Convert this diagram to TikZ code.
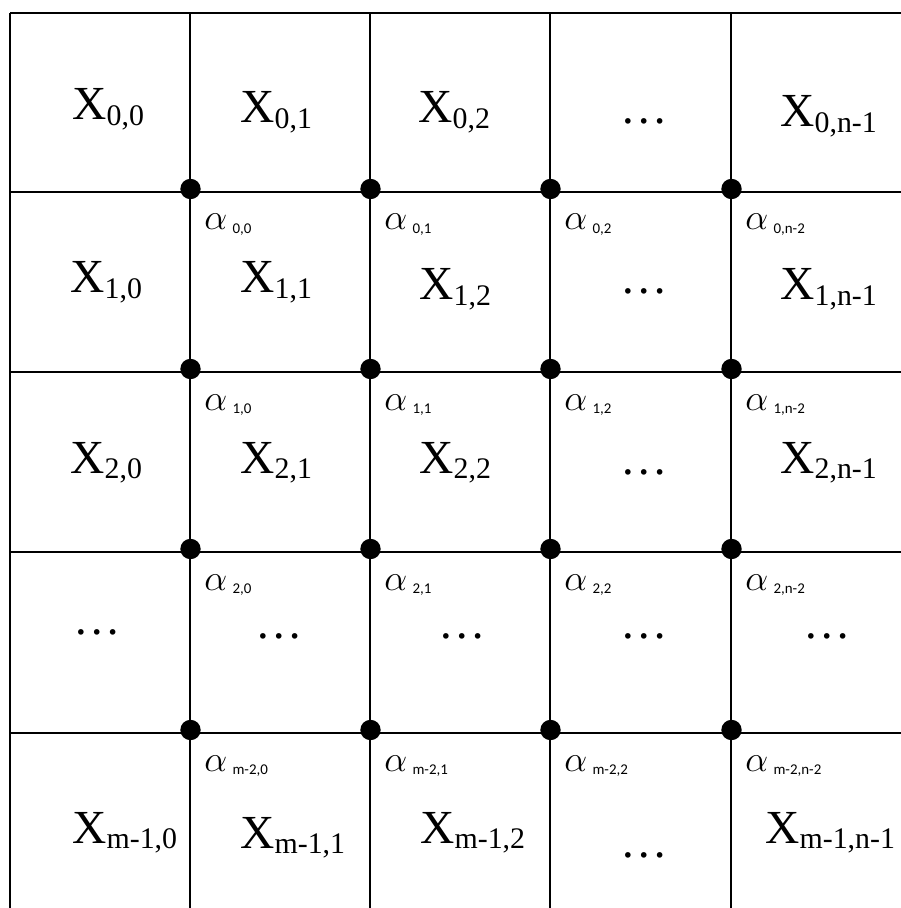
\documentclass[tikz,border=0pt]{standalone}
\usepackage{fontspec}
\setmainfont{Liberation Serif}
\newfontfamily\smallsans{Carlito}
\usepackage{tikz}

\newcommand{\xlab}[1]{X\raisebox{-3pt}{\fontsize{17}{17}\selectfont #1}}
\newcommand{\alab}[1]{$\alpha$\hspace{3pt}\raisebox{-2pt}{\smallsans\fontsize{8.5}{9}\selectfont #1}}

\begin{document}
\begin{tikzpicture}[x=0.02cm,y=-0.02cm,
  cell/.style={inner sep=0pt,anchor=base west,font=\fontsize{27}{30}\selectfont},
  weight/.style={inner sep=0pt,anchor=base west,font=\fontsize{21}{24}\selectfont}]
\useasboundingbox (0,0) rectangle (901,908);
% grid, open at the right and at the bottom
\foreach \y in {13,192,372,552,733} \draw[line width=1.1pt] (10,\y) -- (901,\y);
\foreach \x in {10,190,370,550,731} \draw[line width=1.1pt] (\x,13) -- (\x,908);
% inner points and their weights
\foreach \y/\r [count=\i] in {192/0,372/1,552/2,733/m-2}{
  \foreach \x/\c [count=\j] in {190/0,370/1,550/2,731/n-2}{
    \fill (\x+0.5,\y-3) circle[radius=5.8pt];
    \node[weight] (a\i\j) at (\x+14,\y+38) {\alab{\r,\c}};
  }
}
% row 0
\node[cell] (x00) at (72,120) {\xlab{0,0}};
\node[cell] (x01) at (240,123) {\xlab{0,1}};
\node[cell] (x02) at (418,123) {\xlab{0,2}};
\node[cell] (x03) at (620,124) {…};
\node[cell] (x04) at (780,127) {\xlab{0,n-1}};
% row 1
\node[cell] (x10) at (70,293) {\xlab{1,0}};
\node[cell] (x11) at (240,293) {\xlab{1,1}};
\node[cell] (x12) at (419,300) {\xlab{1,2}};
\node[cell] (x13) at (620,294) {…};
\node[cell] (x14) at (780,300) {\xlab{1,n-1}};
% row 2
\node[cell] (x20) at (70,473) {\xlab{2,0}};
\node[cell] (x21) at (240,473) {\xlab{2,1}};
\node[cell] (x22) at (419,473) {\xlab{2,2}};
\node[cell] (x23) at (620,474) {…};
\node[cell] (x24) at (780,473) {\xlab{2,n-1}};
% row 3
\node[cell] (x30) at (73,634) {…};
\node[cell] (x31) at (255,638) {…};
\node[cell] (x32) at (438,638) {…};
\node[cell] (x33) at (620,638) {…};
\node[cell] (x34) at (803,638) {…};
% row m-1
\node[cell] (x40) at (72,843) {\xlab{m-1,0}};
\node[cell] (x41) at (240,848) {\xlab{m-1,1}};
\node[cell] (x42) at (420,843) {\xlab{m-1,2}};
\node[cell] (x43) at (620,857) {…};
\node[cell] (x44) at (765,843) {\xlab{m-1,n-1}};
\end{tikzpicture}
\end{document}
